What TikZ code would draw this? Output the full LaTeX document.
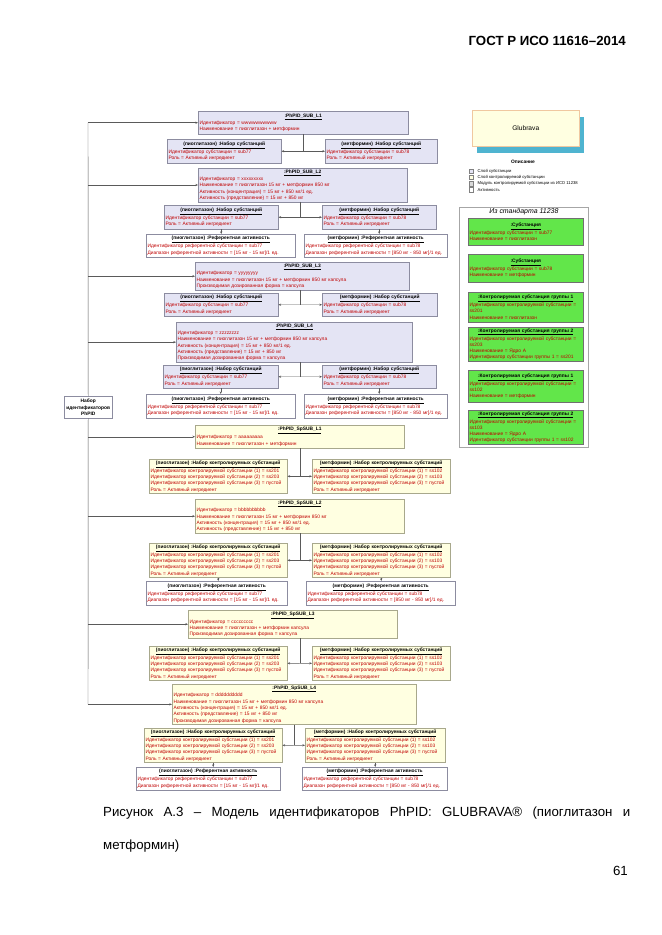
\documentclass[tikz,border=0pt]{standalone}
\usepackage{fontspec}
\setmainfont{Liberation Sans}
\usetikzlibrary{arrows.meta, positioning, calc}
\newlength\pu
\setlength\pu{0.3177mm}
\definecolor{lvfill}{HTML}{E4E4F4}
\definecolor{lvline}{HTML}{8C8CA0}
\definecolor{ylfill}{HTML}{FFFFE1}
\definecolor{ylline}{HTML}{A8A88C}
\definecolor{grfill}{HTML}{62E64A}
\definecolor{grline}{HTML}{707070}
\definecolor{txtred}{HTML}{C00000}
\definecolor{edge}{HTML}{5A5A5A}
\definecolor{shadowblue}{HTML}{4FB4D0}
\definecolor{glbline}{HTML}{F0C8A0}
\newcommand\ttl[1]{\makebox[\linewidth]{\color{black}\bfseries\underline{#1}}}

\begin{document}
\begin{tikzpicture}[x=0.3177mm, y=-0.3177mm,
    wd/.style={minimum width=#1*\pu, text width=#1*\pu-2.4pt},
    ht/.style={minimum height=#1*\pu},
    box/.style={draw, line width=0.4pt, anchor=north west, inner sep=1.2pt, align=left,
        text=txtred, font=\fontsize{4.4}{5.7}\selectfont},
    lvbox/.style={box, draw=lvline, fill=lvfill},
    ylbox/.style={box, draw=ylline, fill=ylfill},
    actbox/.style={box, draw=lvline, fill=white},
    grbox/.style={box, draw=grline, fill=grfill},
    plain/.style={draw=edge, line width=0.4pt},
    link/.style={plain, -{Stealth[length=2.4pt, width=2pt]}}]
    \useasboundingbox (0,0) rectangle (661,935);
    \fill[white] (0,0) rectangle (661,935);

    % заголовок страницы
    \node[anchor=base east, inner sep=0, font=\bfseries\fontsize{12}{14}\selectfont] (hdr) at (626,46) {ГОСТ Р ИСО 11616–2014};

    % набор идентификаторов
    \node[box, draw=lvline, fill=white, text=black, wd=48, ht=22, align=center,
        font=\bfseries\fontsize{4.4}{5.7}\selectfont] (ids) at (64,396) {Набор\\идентификаторов\\PhPID};

    % слой субстанции
    \node[lvbox, wd=210, ht=23] (p1) at (198,111) {\ttl{:PhPID\_SUB\_L1}\\Идентификатор = wwwwwwwwww\\Наименование = пиоглитазон + метформин};
    \node[lvbox, wd=114, ht=24] (p1-a) at (167,139) {\ttl{(пиоглитазон) :Набор субстанций}\\Идентификатор субстанции = sub77\\Роль = Активный ингредиент};
    \node[lvbox, wd=112, ht=24] (p1-b) at (325,139) {\ttl{(метформин) :Набор субстанций}\\Идентификатор субстанции = sub78\\Роль = Активный ингредиент};

    \node[lvbox, wd=209, ht=32] (p2) at (198,168) {\ttl{:PhPID\_SUB\_L2}\\Идентификатор = xxxxxxxxx\\Наименование = пиоглитазон 15 мг + метформин 850 мг\\Активность (концентрация) = 15 мг + 850 мг/1 ед.\\Активность (представление) = 15 мг + 850 мг};
    \node[lvbox, wd=114, ht=24] (p2-a) at (164,205) {\ttl{(пиоглитазон) :Набор субстанций}\\Идентификатор субстанции = sub77\\Роль = Активный ингредиент};
    \node[lvbox, wd=114, ht=24] (p2-b) at (322,205) {\ttl{(метформин) :Набор субстанций}\\Идентификатор субстанции = sub78\\Роль = Активный ингредиент};
    \node[actbox, wd=149, ht=23] (p2-ra) at (146,234) {\ttl{(пиоглитазон) :Референтная активность}\\Идентификатор референтной субстанции = sub77\\Диапазон референтной активности = [15 мг - 15 мг]/1 ед.};
    \node[actbox, wd=143, ht=23] (p2-rb) at (304,234) {\ttl{(метформин) :Референтная активность}\\Идентификатор референтной субстанции = sub78\\Диапазон референтной активности = [850 мг - 850 мг]/1 ед.};

    \node[lvbox, wd=214, ht=28] (p3) at (195,262) {\ttl{:PhPID\_SUB\_L3}\\Идентификатор = yyyyyyyy\\Наименование = пиоглитазон 15 мг + метформин 850 мг капсула\\Производимая дозированная форма = капсула};
    \node[lvbox, wd=114, ht=23] (p3-a) at (164,293) {\ttl{(пиоглитазон) :Набор субстанций}\\Идентификатор субстанции = sub77\\Роль = Активный ингредиент};
    \node[lvbox, wd=115, ht=23] (p3-b) at (322,293) {\ttl{(метформин) :Набор субстанций}\\Идентификатор субстанции = sub78\\Роль = Активный ингредиент};

    \node[lvbox, wd=236, ht=38] (p4) at (176,322) {\ttl{:PhPID\_SUB\_L4}\\Идентификатор = zzzzzzzz\\Наименование = пиоглитазон 15 мг + метформин 850 мг капсула\\Активность (концентрация) = 15 мг + 850 мг/1 ед.\\Активность (представление) = 15 мг + 850 мг\\Производимая дозированная форма = капсула};
    \node[lvbox, wd=115, ht=23] (p4-a) at (163,365) {\ttl{(пиоглитазон) :Набор субстанций}\\Идентификатор субстанции = sub77\\Роль = Активный ингредиент};
    \node[lvbox, wd=114, ht=23] (p4-b) at (322,365) {\ttl{(метформин) :Набор субстанций}\\Идентификатор субстанции = sub78\\Роль = Активный ингредиент};
    \node[actbox, wd=149, ht=24] (p4-ra) at (146,394) {\ttl{(пиоглитазон) :Референтная активность}\\Идентификатор референтной субстанции = sub77\\Диапазон референтной активности = [15 мг - 15 мг]/1 ед.};
    \node[actbox, wd=143, ht=24] (p4-rb) at (304,394) {\ttl{(метформин) :Референтная активность}\\Идентификатор референтной субстанции = sub78\\Диапазон референтной активности = [850 мг - 850 мг]/1 ед.};

    % слой контролируемой субстанции
    \node[ylbox, wd=209, ht=23] (q1) at (195,425) {\ttl{:PhPID\_SpSUB\_L1}\\Идентификатор = aaaaaaaaa\\Наименование = пиоглитазон + метформин};
    \node[ylbox, wd=138, ht=31] (q1-a) at (149,459) {\ttl{(пиоглитазон) :Набор контролируемых субстанций}\\Идентификатор контролируемой субстанции (1) = ss201\\Идентификатор контролируемой субстанции (2) = ss203\\Идентификатор контролируемой субстанции (3) = пустой\\Роль = Активный ингредиент};
    \node[ylbox, wd=138, ht=31] (q1-b) at (312,459) {\ttl{(метформин) :Набор контролируемых субстанций}\\Идентификатор контролируемой субстанции (1) = ss102\\Идентификатор контролируемой субстанции (2) = ss103\\Идентификатор контролируемой субстанции (3) = пустой\\Роль = Активный ингредиент};

    \node[ylbox, wd=209, ht=34] (q2) at (195,499) {\ttl{:PhPID\_SpSUB\_L2}\\Идентификатор = bbbbbbbbbb\\Наименование = пиоглитазон 15 мг + метформин 850 мг\\Активность (концентрация) = 15 мг + 850 мг/1 ед.\\Активность (представление) = 15 мг + 850 мг};
    \node[ylbox, wd=138, ht=30] (q2-a) at (149,543) {\ttl{(пиоглитазон) :Набор контролируемых субстанций}\\Идентификатор контролируемой субстанции (1) = ss201\\Идентификатор контролируемой субстанции (2) = ss203\\Идентификатор контролируемой субстанции (3) = пустой\\Роль = Активный ингредиент};
    \node[ylbox, wd=138, ht=30] (q2-b) at (312,543) {\ttl{(метформин) :Набор контролируемых субстанций}\\Идентификатор контролируемой субстанции (1) = ss102\\Идентификатор контролируемой субстанции (2) = ss103\\Идентификатор контролируемой субстанции (3) = пустой\\Роль = Активный ингредиент};
    \node[actbox, wd=141, ht=24] (q2-ra) at (146,581) {\ttl{(пиоглитазон) :Референтная активность}\\Идентификатор референтной субстанции = sub77\\Диапазон референтной активности = [15 мг - 15 мг]/1 ед.};
    \node[actbox, wd=149, ht=24] (q2-rb) at (306,581) {\ttl{(метформин) :Референтная активность}\\Идентификатор референтной субстанции = sub78\\Диапазон референтной активности = [850 мг - 850 мг]/1 ед.};

    \node[ylbox, wd=209, ht=28] (q3) at (188,610) {\ttl{:PhPID\_SpSUB\_L3}\\Идентификатор = ccccccccc\\Наименование = пиоглитазон + метформин капсула\\Производимая дозированная форма = капсула};
    \node[ylbox, wd=138, ht=31] (q3-a) at (149,646) {\ttl{(пиоглитазон) :Набор контролируемых субстанций}\\Идентификатор контролируемой субстанции (1) = ss201\\Идентификатор контролируемой субстанции (2) = ss203\\Идентификатор контролируемой субстанции (3) = пустой\\Роль = Активный ингредиент};
    \node[ylbox, wd=138, ht=31] (q3-b) at (312,646) {\ttl{(метформин) :Набор контролируемых субстанций}\\Идентификатор контролируемой субстанции (1) = ss102\\Идентификатор контролируемой субстанции (2) = ss103\\Идентификатор контролируемой субстанции (3) = пустой\\Роль = Активный ингредиент};

    \node[ylbox, wd=244, ht=39] (q4) at (172,684) {\ttl{:PhPID\_SpSUB\_L4}\\Идентификатор = dddddddddd\\Наименование = пиоглитазон 15 мг + метформин 850 мг капсула\\Активность (концентрация) = 15 мг + 850 мг/1 ед.\\Активность (представление) = 15 мг + 850 мг\\Производимая дозированная форма = капсула};
    \node[ylbox, wd=138, ht=30] (q4-a) at (144,728) {\ttl{(пиоглитазон) :Набор контролируемых субстанций}\\Идентификатор контролируемой субстанции (1) = ss201\\Идентификатор контролируемой субстанции (2) = ss203\\Идентификатор контролируемой субстанции (3) = пустой\\Роль = Активный ингредиент};
    \node[ylbox, wd=140, ht=30] (q4-b) at (305,728) {\ttl{(метформин) :Набор контролируемых субстанций}\\Идентификатор контролируемой субстанции (1) = ss102\\Идентификатор контролируемой субстанции (2) = ss103\\Идентификатор контролируемой субстанции (3) = пустой\\Роль = Активный ингредиент};
    \node[actbox, wd=144, ht=23] (q4-ra) at (136,767) {\ttl{(пиоглитазон) :Референтная активность}\\Идентификатор референтной субстанции = sub77\\Диапазон референтной активности = [15 мг - 15 мг]/1 ед.};
    \node[actbox, wd=145, ht=23] (q4-rb) at (302,767) {\ttl{(метформин) :Референтная активность}\\Идентификатор референтной субстанции = sub78\\Диапазон референтной активности = [850 мг - 850 мг]/1 ед.};

    % ствол и связи
    \coordinate (tk) at (88,0);
    \draw[plain] (p1.west -| tk) -- (ids.north);
    \draw[plain] (ids.south) -- (q4.west -| tk);
    \foreach \n in {p1,p2,p3,p4,q1,q2,q3,q4} {
        \draw[link] (\n.west -| tk) -- (\n.west);
        \coordinate (\n-j) at ($(\n-a.east)!0.5!(\n-b.west)$);
        \draw[plain] (\n.south -| \n-j) -- (\n-j);
        \draw[link] (\n-j) -- (\n-a.east);
        \draw[link] (\n-j) -- (\n-b.west);
    }
    \foreach \n in {p2,p4,q2,q4} {
        \draw[link] (\n-a.south) -- (\n-a.south |- \n-ra.north);
        \draw[link] (\n-b.south) -- (\n-b.south |- \n-rb.north);
    }

    % продукт и описание
    \node[fill=shadowblue, draw=none, anchor=north west, minimum width=107*\pu, minimum height=36*\pu] (glb-sh) at (477,117) {};
    \node[draw=glbline, fill=ylfill, anchor=north west, minimum width=107*\pu, minimum height=36*\pu,
        font=\fontsize{6}{7}\selectfont] (glb) at (472,110) {Glubrava};
    \node[font=\bfseries\fontsize{4.4}{5}\selectfont, inner sep=0.5pt] (lgd) at (523,162) {Описание};
    \foreach \c/\t [count=\i] in {lvfill/Слой субстанции, ylfill/Слой контролируемой субстанции,
            black!15/Модуль контролируемой субстанции из ИСО 11238, white/Активность} {
        \node[draw=gray, fill=\c, minimum size=4.5*\pu, inner sep=0pt] (sq\i) at (471,164.7+6.3*\i) {};
        \node[right=4*\pu of sq\i, inner sep=0pt, font=\fontsize{3.8}{4.5}\selectfont] (lt\i) {\t};
    }

    % из стандарта 11238
    \node[draw=black!35, line width=0.7pt, anchor=north west, minimum width=129*\pu, minimum height=240*\pu] (frm) at (459,207) {};
    \node[anchor=north, inner sep=1pt, font=\itshape\fontsize{6.3}{7}\selectfont] (frm-t) at (frm.north) {Из стандарта 11238};
    \node[grbox, wd=115, ht=27] (g1) at (468,218) {\ttl{:Субстанция}\\Идентификатор субстанции = sub77\\Наименование = пиоглитазон};
    \node[grbox, wd=115, ht=28] (g2) at (468,254) {\ttl{:Субстанция}\\Идентификатор субстанции = sub78\\Наименование = метформин};
    \node[grbox, wd=115, ht=30] (g3) at (468,292) {\ttl{:Контролируемая субстанция группы 1}\\Идентификатор контролируемой субстанции = ss201\\Наименование = пиоглитазон};
    \node[grbox, wd=115, ht=34] (g4) at (468,327) {\ttl{:Контролируемая субстанция группы 2}\\Идентификатор контролируемой субстанции = ss203\\Наименование = Ядро А\\Идентификатор субстанции группы 1 = ss201};
    \node[grbox, wd=115, ht=32] (g5) at (468,370) {\ttl{:Контролируемая субстанция группы 1}\\Идентификатор контролируемой субстанции = ss102\\Наименование = метформин};
    \node[grbox, wd=115, ht=34] (g6) at (468,410) {\ttl{:Контролируемая субстанция группы 2}\\Идентификатор контролируемой субстанции = ss103\\Наименование = Ядро А\\Идентификатор субстанции группы 1 = ss102};

    % подпись
    \node[anchor=base west, inner sep=0, font=\fontsize{12}{14}\selectfont] (cap1) at (103,816)
        {\makebox[527\pu][s]{Рисунок А.3 – Модель идентификаторов PhPID: GLUBRAVA® (пиоглитазон и}};
    \node[anchor=base west, inner sep=0, font=\fontsize{12}{14}\selectfont] (cap2) at (103,849) {метформин)};
    \node[anchor=base east, inner sep=0, font=\fontsize{12}{14}\selectfont] (pgn) at (628,875) {61};
\end{tikzpicture}
\end{document}
